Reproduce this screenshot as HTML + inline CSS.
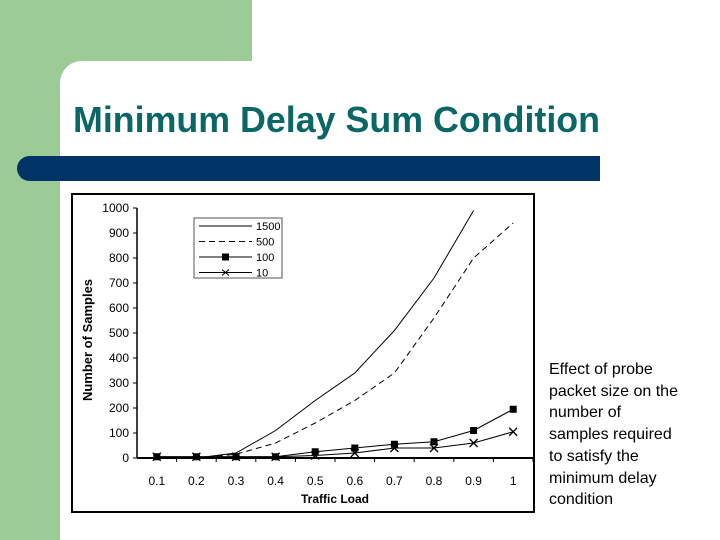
<!DOCTYPE html>
<html><head><meta charset="utf-8"><style>
body{margin:0;width:720px;height:540px;overflow:hidden;background:#fff;font-family:"Liberation Sans",sans-serif;position:relative}
.abs{position:absolute}
</style></head><body>
<div class="abs" style="left:0;top:0;width:60px;height:540px;background:#9ccb98"></div>
<div class="abs" style="left:0;top:0;width:252px;height:61px;background:#9ccb98"></div>
<div class="abs" style="left:60px;top:61px;width:30px;height:30px;background:#9ccb98"></div>
<div class="abs" style="left:60px;top:61px;width:660px;height:479px;background:#fff;border-top-left-radius:22px"></div>
<div class="abs" style="left:73px;top:103px;font-size:35.8px;line-height:1;font-weight:bold;color:#0b6666;white-space:nowrap">Minimum Delay Sum Condition</div>
<div class="abs" style="left:17px;top:156px;width:583px;height:25px;background:#003366;border-radius:13px 0 0 13px"></div>
<div class="abs" style="left:549px;top:359px;font-size:16px;line-height:21.7px;color:#000;white-space:nowrap">Effect of probe<br>packet size on the<br>number of<br>samples required<br>to satisfy the<br>minimum delay<br>condition</div>
<svg class="abs" style="left:0;top:0" width="720" height="540" font-family="Liberation Sans, sans-serif">
<rect x="72" y="194" width="462" height="318" fill="#fff" stroke="#000" stroke-width="2"/>
<g id="plot"></g>
</svg>
<script>
const categories=["0.1","0.2","0.3","0.4","0.5","0.6","0.7","0.8","0.9","1"];
const yTicks=[0,100,200,300,400,500,600,700,800,900,1000];
const s1500=[0,0,20,110,230,340,510,720,990,null];
const s500=[0,0,15,60,140,230,340,560,800,940];
const s100=[5,5,5,5,25,40,55,65,110,195];
const s10=[5,5,5,5,10,20,40,40,60,105];
const seriesNames=["1500","500","100","10"];
const NS="http://www.w3.org/2000/svg";
const g=document.getElementById('plot');
const x0=137,x1=533,y0=458,y1=208;
const step=(x1-x0)/categories.length;
const X=i=>x0+step*(i+0.5);
const Y=v=>y0-(v/1000)*(y0-y1);
function mk(t,a,p){const e=document.createElementNS(NS,t);for(const k in a)e.setAttribute(k,a[k]);(p||g).appendChild(e);return e;}
let ax=mk('line',{x1:x0,y1:y1,x2:x0,y2:y0,stroke:'#000','stroke-width':1.5});


let bx=mk('line',{x1:x0,y1:y0,x2:x1,y2:y0,stroke:'#000','stroke-width':2});


yTicks.forEach(v=>{
 mk('line',{x1:x0-4,y1:Y(v),x2:x0,y2:Y(v),stroke:'#000'});
 const t=mk('text',{x:x0-8,y:Y(v)+4,'text-anchor':'end','font-size':12});t.textContent=v;
 
 
});
categories.forEach((c,i)=>{
 mk('line',{x1:x0+step*(i+1),y1:y0,x2:x0+step*(i+1),y2:y0+4,stroke:'#000'});
 const t=mk('text',{x:X(i),y:y0+27,'text-anchor':'middle','font-size':12});t.textContent=c;
 
 
});
let xt=mk('text',{x:335,y:503,'text-anchor':'middle','font-size':12,'font-weight':'bold'});xt.textContent='Traffic Load';


let yt=mk('text',{x:92,y:340,'text-anchor':'middle','font-size':13,'font-weight':'bold',transform:'rotate(-90 92 340)'});yt.textContent='Number of Samples';


function line(data,dash,w,name){
 let d='';data.forEach((v,i)=>{if(v==null)return;d+=(d?'L':'M')+X(i)+','+Y(v);});
 const p=mk('path',{d:d,fill:'none',stroke:'#000','stroke-width':w,'stroke-dasharray':dash});
 
 
}
line(s1500,'',1,'series-1500');
line(s500,'6,4',1,'series-500');
line(s100,'',1,'series-100');
line(s10,'',1,'series-10');
s100.forEach((v,i)=>{const r=mk('rect',{x:X(i)-3.5,y:Y(v)-3.5,width:7,height:7,fill:'#000'});
 
 });
s10.forEach((v,i)=>{const m=mk('path',{d:`M${X(i)-4},${Y(v)-4}L${X(i)+4},${Y(v)+4}M${X(i)+4},${Y(v)-4}L${X(i)-4},${Y(v)+4}`,stroke:'#000','stroke-width':1.3});
 
 });
const lg=mk('g',{});


mk('rect',{x:194,y:218,width:88,height:60,fill:'#fff',stroke:'#555'},lg);
const dashes=['','6,4','',''];
seriesNames.forEach((n,i)=>{
 const yy=226+i*15.5;
 mk('line',{x1:199,y1:yy,x2:252,y2:yy,stroke:'#000','stroke-dasharray':dashes[i]},lg);
 if(i==2)mk('rect',{x:222,y:yy-3.5,width:7,height:7,fill:'#000'},lg);
 if(i==3)mk('path',{d:`M222,${yy-3}L229,${yy+3}M229,${yy-3}L222,${yy+3}`,stroke:'#000'},lg);
 const t=mk('text',{x:256,y:yy+4,'font-size':11},lg);t.textContent=n;
 
 
});
</script>
</body></html>
